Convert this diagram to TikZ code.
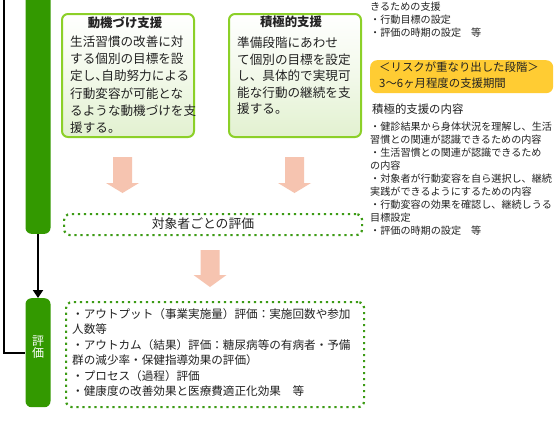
\documentclass[tikz,border=0pt]{standalone}
\usepackage{fontspec}
\setmainfont{Noto Sans CJK JP}
\usetikzlibrary{arrows.meta}
\definecolor{barGreen}{RGB}{51,153,0}
\definecolor{boxBorder}{RGB}{140,208,40}
\definecolor{boxFill}{RGB}{226,241,208}
\definecolor{dotGreen}{RGB}{60,155,20}
\definecolor{goldFill}{RGB}{255,204,51}
\definecolor{arrowFill}{RGB}{246,196,176}
\definecolor{txt}{RGB}{34,34,34}
\newcommand{\myBlockArrow}[4]{% center x, top y, head start y, tip y
  \fill[arrowFill] (#1-9.5,#2) -- (#1+9.5,#2) -- (#1+9.5,#3) -- (#1+16.5,#3) -- (#1,#4) -- (#1-16.5,#3) -- (#1-9.5,#3) -- cycle;}
\newcommand{\narrowcomma}{\makebox[6pt][l]{、}}
\tikzset{
  greenbar/.style={fill=barGreen, rounded corners=6pt, minimum width=25pt, inner sep=0pt},
  supbox/.style={draw=boxBorder, line width=2pt, rounded corners=6pt, top color=white, bottom color=boxFill, middle color=boxFill!45, inner sep=0pt},
  dotbox/.style={draw=dotGreen, line width=2.2pt, dash pattern=on 2.2pt off 3.8pt, rounded corners=6pt, inner sep=0pt},
  boxtitle/.style={text=txt, font=\fontsize{12.4}{14}\selectfont\bfseries, inner sep=0pt},
  bodytext/.style={text=txt, align=left, inner sep=0pt, anchor=north west},
}
\begin{document}
\begin{tikzpicture}[x=1pt,y=-1pt]
\useasboundingbox[fill=white] (0,0) rectangle (555,432);

% left bars
\node[greenbar, minimum height=250pt, anchor=south] (topbar) at (38,234) {};
\node[greenbar, minimum height=109pt, anchor=north] (evalbar) at (38,298) {};
\node[text=white, font=\fontsize{12}{12}\selectfont, align=center, inner sep=0pt] (evallabel) at (38,347) {評\\価};

\coordinate (loopstart) at (4,-5);
\draw[line width=2.2pt] (loopstart) |- (evalbar.west);
\draw[line width=2pt, -{Triangle[width=10pt,length=8pt]}] (topbar.south) -- (evalbar.north);

% support boxes
\node[supbox, minimum width=132pt, minimum height=123pt, anchor=north west] (box1) at (61,13) {};
\node[boxtitle] (t1) at (125,23) {動機づけ支援};
\node[bodytext, font=\fontsize{12.6}{17.3}\selectfont] (b1) at (70,35.5) {生活習慣の改善に対\\する個別の目標を設\\定し\narrowcomma 自助努力による\\行動変容が可能とな\\るような動機づけを支\\援する。};

\node[supbox, minimum width=132pt, minimum height=123pt, anchor=north west] (box2) at (228,13) {};
\node[boxtitle] (t2) at (291,22) {積極的支援};
\node[bodytext, font=\fontsize{12.6}{16.5}\selectfont] (b2) at (237,36.9) {準備段階にあわせ\\て個別の目標を設定\\し、具体的で実現可\\能な行動の継続を支\\援する。};

% right column
\node[bodytext, font=\fontsize{10.1}{13}\selectfont] (r1) at (370,2) {きるための支援\\・行動目標の設定\\・評価の時期の設定\quad 等};
\node[fill=goldFill, rounded corners=7pt, minimum width=183pt, minimum height=33pt, inner sep=0pt, anchor=north west] (risk) at (370,60) {};
\node[bodytext, font=\fontsize{11.4}{16}\selectfont] (risktext) at (379,61.3) {＜リスクが重なり出した段階＞\\3～6ヶ月程度の支援期間};
\node[text=txt, font=\fontsize{11.4}{13}\selectfont, inner sep=0pt, anchor=west] (r2) at (372,109) {積極的支援の内容};
\node[bodytext, font=\fontsize{10.1}{13}\selectfont] (r3) at (370,122) {・健診結果から身体状況を理解し、生活\\習慣との関連が認識できるための内容\\・生活習慣との関連が認識できるため\\の内容\\・対象者が行動変容を自ら選択し、継続\\実践ができるようにするための内容\\・行動変容の効果を確認し、継続しうる\\目標設定\\・評価の時期の設定\quad 等};

% orange arrows
\myBlockArrow{122.5}{157}{183}{193}
\myBlockArrow{294.5}{157}{183}{193}
\myBlockArrow{210}{250}{275}{287}

% evaluation boxes
\node[dotbox, minimum width=298pt, minimum height=21pt, anchor=north west] (eval1) at (63,213) {};
\node[text=txt, font=\fontsize{12.8}{14}\selectfont, inner sep=0pt] (eval1text) at (203,223.5) {対象者ごとの評価};

\node[dotbox, minimum width=298pt, minimum height=105pt, anchor=north west] (eval2) at (65,301) {};
\node[bodytext, font=\fontsize{11.6}{15.5}\selectfont] (eval2text) at (72,308.2) {・アウトプット（事業実施量）評価：実施回数や参加\\人数等\\・アウトカム（結果）評価：糖尿病等の有病者・予備\\群の減少率・保健指導効果の評価）\\・プロセス（過程）評価\\・健康度の改善効果と医療費適正化効果\quad 等};
\end{tikzpicture}
\end{document}
